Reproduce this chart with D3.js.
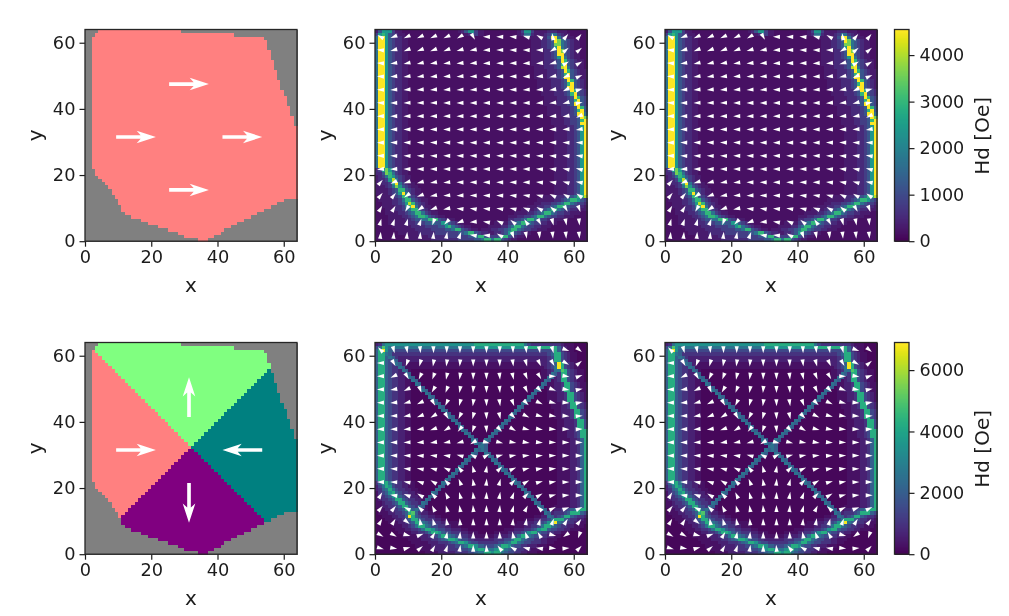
<!DOCTYPE html>
<html>
<head>
<meta charset="utf-8">
<script src="https://cdn.jsdelivr.net/npm/d3@7"></script>
<style>
body { margin: 0; background: #fff; }
svg { display: block; filter: blur(0.45px); }
text { font-family: "DejaVu Sans", sans-serif; fill: #1c1c1c; }
.cell, .step { shape-rendering: crispEdges; }
</style>
</head>
<body>
<script>
var xTicks = [0, 20, 40, 60];
var yTicks = [0, 20, 40, 60];
var topBarTicks = [0, 1000, 2000, 3000, 4000];
var bottomBarTicks = [0, 2000, 4000, 6000];
var topBarMax = 4550;
var bottomBarMax = 6900;

// shape outline, one entry per row y = 0..63
var rowStart = [34,30,28,25,22,19,17,14,12,11,11,10,10,9,8,8,7,6,5,4,3,3,
  2,2,2,2,2,2,2,2,2,2,2,2,2,2,2,2,2,2,2,2,2,2,2,2,2,2,2,2,2,2,2,2,2,2,2,2,2,2,2,2,3,4];
var rowEnd = [37,39,41,42,44,46,48,50,52,54,56,58,60,
  64,64,64,64,64,64,64,64,64,64,64,64,64,64,64,64,64,64,64,64,64,64,
  63,63,63,62,62,62,61,61,61,60,60,59,59,59,58,58,58,57,57,57,56,56,56,55,55,55,54,45,29];

// domain split of the lower maps: y - x and y + x along the two diagonals
var splitDiff = 0.7;
var splitSum = 64.5;
var maskColors = { out: "#808080", left: "#ff8080", top: "#80ff80", right: "#008080", bottom: "#800080" };

// big white arrows on the maps
var bigArrowX = [31.4, 15.4, 47.5, 31.4];
var bigArrowY = [47.5, 31.5, 31.5, 15.5];
var bigAnglesTop = [0, 0, 0, 0];
var bigAnglesBottom = [90, 0, 180, -90];

// Hd per cell, rows y = 63 down to 0, one character per cell, as an index into the levels
var topLevels = [180, 330, 540, 820, 1200, 1700, 2400, 3000, 3600, 4100, 4550];
var bottomLevels = [120, 320, 620, 1000, 1500, 2050, 2600, 3500, 4300, 5000, 6800];

var topHeat = [
"14666311 00000000 00000000 01246631 10000000 00013663 11112221 11000000",
"36764321 10000000 00000000 00012431 10000000 00012552 11123553 21100000",
"5aa64322 11000000 00000000 00000000 00000000 00000111 11124aa5 32110000",
"5aa64322 11000000 00000000 00000000 00000000 00000001 112234a8 54321100",
"5aa64322 11000000 00000000 00000000 00000000 00000001 11223488 54321100",
"5aa64322 11000000 00000000 00000000 00000000 00000001 1122346a 54321100",
"5aa64322 11000000 00000000 00000000 00000000 00000001 1112234a 84321100",
"5aa64322 11000000 00000000 00000000 00000000 00000001 1112234a a4321100",
"5aa64322 11000000 00000000 00000000 00000000 00000001 11122346 a5321100",
"5aa64322 11000000 00000000 00000000 00000000 00000001 11122234 a7432110",
"5aa64322 11000000 00000000 00000000 00000000 00000001 11122234 7a432110",
"5aa64322 11000000 00000000 00000000 00000000 00000000 11122234 9a532110",
"5aa64322 11000000 00000000 00000000 00000000 00000000 11112223 4a743211",
"5aa64322 11000000 00000000 00000000 00000000 00000000 11112223 47a43211",
"5aa64322 11000000 00000000 00000000 00000000 00000000 11112223 4aa43211",
"5aa64322 11000000 00000000 00000000 00000000 00000000 01111222 34a74321",
"5aa64322 11000000 00000000 00000000 00000000 00000000 01111222 347a4321",
"5aa64322 11000000 00000000 00000000 00000000 00000000 01111222 34aa4321",
"5aa64322 11000000 00000000 00000000 00000000 00000000 00111122 234a7432",
"5aa64322 11000000 00000000 00000000 00000000 00000000 00111122 2347a432",
"5aa64322 11000000 00000000 00000000 00000000 00000000 00011112 2234a743",
"5aa64322 11000000 00000000 00000000 00000000 00000000 00011112 22347a43",
"5aa64322 11000000 00000000 00000000 00000000 00000000 00011112 2234aa43",
"5aa64322 11000000 00000000 00000000 00000000 00000000 00001111 22234a74",
"5aa64322 11000000 00000000 00000000 00000000 00000000 00001111 222347a4",
"5aa64322 11000000 00000000 00000000 00000000 00000000 00001111 22234aa5",
"5aa64322 11000000 00000000 00000000 00000000 00000000 00000111 122334a8",
"5aa64322 11000000 00000000 00000000 00000000 00000000 00000111 1223347a",
"5aa64322 11000000 00000000 00000000 00000000 00000000 00000111 122334aa",
"5aa64322 11000000 00000000 00000000 00000000 00000000 00000011 1122346a",
"5aa64322 11000000 00000000 00000000 00000000 00000000 00000011 1122346a",
"5aa64322 11000000 00000000 00000000 00000000 00000000 00000011 1122346a",
"5aa64322 11000000 00000000 00000000 00000000 00000000 00000011 1122346a",
"5aa64322 11000000 00000000 00000000 00000000 00000000 00000011 1122346a",
"5aa64322 11000000 00000000 00000000 00000000 00000000 00000011 1122346a",
"5aa64322 11000000 00000000 00000000 00000000 00000000 00000011 1122346a",
"5aa64322 11000000 00000000 00000000 00000000 00000000 00000011 1122346a",
"5aa64322 11000000 00000000 00000000 00000000 00000000 00000011 1122346a",
"5aa64322 11000000 00000000 00000000 00000000 00000000 00000011 1122346a",
"5aa64322 11000000 00000000 00000000 00000000 00000000 00000011 1122346a",
"5aa64322 11000000 00000000 00000000 00000000 00000000 00000011 1122346a",
"5aa64322 11000000 00000000 00000000 00000000 00000000 00000011 1122346a",
"23686432 11000000 00000000 00000000 00000000 00000000 00000011 1122346a",
"22487532 11000000 00000000 00000000 00000000 00000000 00000011 1122346a",
"12357643 21100000 00000000 00000000 00000000 00000000 00000011 1122346a",
"12236953 21100000 00000000 00000000 00000000 00000000 00000011 1122346a",
"112236a5 32110000 00000000 00000000 00000000 00000000 00000011 1122346a",
"11123586 43211000 00000000 00000000 00000000 00000000 00000011 1122346a",
"11112347 74321100 00000000 00000000 00000000 00000000 00000011 1122346a",
"11112346 a5321100 00000000 00000000 00000000 00000000 00000011 1122346a",
"01111234 77432110 00000000 00000000 00000000 00000000 00111122 23345779",
"01111223 57743211 00000000 00000000 00000000 00000000 01111122 34577643",
"00111223 46974321 00000000 00000000 00000000 00000000 11222334 57754332",
"00111122 357a5321 10000000 00000000 00000000 00000011 12233457 75433221",
"00011122 34577432 11000000 00000000 00000000 00001111 23345775 43322111",
"00011112 23457753 21100000 00000000 00000000 00111122 34577543 32211100",
"00001111 22345776 43211000 00000000 00000000 11122334 57754332 21110000",
"00001111 12234455 77743211 00000000 00000000 22334577 54332211 10000000",
"00001111 11223334 45446643 21100000 00001111 33457754 33221110 00000000",
"00000111 11122223 33344675 43211000 00111122 45775433 22111000 00000000",
"00000011 11112222 23333445 77432110 11122334 57754332 21110000 00000000",
"00000001 11111222 22333333 34457743 22112234 67432110 00000000 00000000",
"00000000 01111111 22222233 33334457 74333477 43211000 00000000 00000000",
"00000000 00111111 12222222 23333344 57757743 21100000 00000000 00000000"
];

var bottomHeat = [
"23677777 77777777 77777777 77777788 88888888 88888643 33333333 21110000",
"46976666 66666666 66666666 66666677 77777777 77777888 88888885 32110000",
"58a75544 44444444 44444444 44444444 44444444 44444444 44444485 32110000",
"58865333 33333333 33333333 33333333 33333333 33333333 33334588 43211000",
"58856532 22222222 22222222 22222222 22222222 22222222 22223488 43211000",
"58854652 22222222 22222222 22222222 22222222 22222222 22223488 43211000",
"58854365 21111111 11111111 11111111 11111111 11111111 1122345a 84321100",
"58854336 51111111 11111111 11111111 11111111 11111111 1112346a 84321100",
"58854332 65100000 00000000 00000000 00000000 00000000 00112366 98432110",
"58854332 26500000 00000000 00000000 00000000 00000000 00112653 88432110",
"58854332 21650000 00000000 00000000 00000000 00000000 00116523 88432110",
"58854332 21165000 00000000 00000000 00000000 00000000 00165123 88432110",
"58854332 21106500 00000000 00000000 00000000 00000000 00651122 38843211",
"58854332 21100650 00000000 00000000 00000000 00000000 06501122 38843211",
"58854332 21100065 00000000 00000000 00000000 00000000 65001122 38843211",
"58854332 21100006 50000000 00000000 00000000 00000006 50001112 23884321",
"58854332 21100000 65000000 00000000 00000000 00000065 00001112 23884321",
"58854332 21100000 06500000 00000000 00000000 00000650 00001112 23884321",
"58854332 21100000 00650000 00000000 00000000 00006500 00000111 22388432",
"58854332 21100000 00065000 00000000 00000000 00065000 00000111 22388432",
"58854332 21100000 00006500 00000000 00000000 00650000 00000011 22238843",
"58854332 21100000 00000650 00000000 00000000 06500000 00000011 22238843",
"58854332 21100000 00000065 00000000 00000000 65000000 00000011 22238843",
"58854332 21100000 00000006 50000000 00000006 50000000 00000001 12223884",
"58854332 21100000 00000000 65000000 00000065 00000000 00000001 12223884",
"58854332 21100000 00000000 06500000 00000650 00000000 00000001 12223884",
"58854332 21100000 00000000 00650000 00006500 00000000 00000001 11223488",
"58854332 21100000 00000000 00065000 00065000 00000000 00000001 11223488",
"58854332 21100000 00000000 00006500 00650000 00000000 00000001 11223488",
"58854332 21100000 00000000 00000650 06500000 00000000 00000001 11122358",
"58854332 21100000 00000000 00000065 65000000 00000000 00000001 11122358",
"58854332 21100000 00000000 00000006 65000000 00000000 00000001 11122358",
"58854332 21100000 00000000 00000065 65000000 00000000 00000001 11122358",
"58854332 21100000 00000000 00000650 06500000 00000000 00000001 11122358",
"58854332 21100000 00000000 00006500 00650000 00000000 00000001 11122358",
"58854332 21100000 00000000 00065000 00065000 00000000 00000001 11122358",
"58854332 21100000 00000000 00650000 00006500 00000000 00000001 11122358",
"58854332 21100000 00000000 06500000 00000650 00000000 00000001 11122358",
"58854332 21100000 00000000 65000000 00000065 00000000 00000001 11122358",
"58854332 21100000 00000006 50000000 00000006 50000000 00000001 11122358",
"58854332 21100000 00000065 00000000 00000000 65000000 00000001 11122358",
"58854332 21100000 00000650 00000000 00000000 06500000 00000001 11122358",
"35786433 22110000 00006500 00000000 00000000 00650000 00000001 11122358",
"24687433 22110000 00065000 00000000 00000000 00065000 00000001 11122358",
"23568643 32211000 00650000 00000000 00000000 00006500 00000001 11122358",
"13457854 33221100 06500000 00000000 00000000 00000650 00000001 11122358",
"12345785 43322110 65000000 00000000 00000000 00000065 00000001 11122358",
"12334588 54332216 50000000 00000000 00000000 00000006 50000001 11122358",
"11233458 85433265 00000000 00000000 00000000 00000000 65000001 11122358",
"11223345 88543651 00000000 00000000 00000000 00000000 06500011 11122358",
"01122334 58856521 00000000 00000000 00000000 00000000 00650022 33456888",
"01112233 45895322 11000000 00000000 00000000 00000000 00165233 34588854",
"00111223 35a85433 22110000 00000000 00000000 00000000 11226534 58854332",
"00011122 34588543 33221100 00000000 00000000 00000111 22334688 85433221",
"00001112 23458865 44332211 10000000 00000000 00011222 334578a6 54332211",
"00000111 22346886 54433221 11000000 00000000 00111223 34688654 33221110",
"00000011 12233468 87544332 22110000 00000001 11222334 57885443 32211100",
"00000001 11122334 68875443 33221110 00001111 22334578 85443322 11100000",
"00000000 11111222 33468865 44332211 11112222 33468865 44332211 00000000",
"00000000 00111122 23345688 75443322 22223334 46886544 33221110 00000000",
"00000000 00011111 22233345 68875443 33333445 68865443 33221100 00000000",
"00000000 00001111 12222333 44568875 54445688 75443322 21110000 00000000",
"00000000 00000111 11222233 33445678 87667886 54433221 11100000 00000000",
"00000000 00000001 11122222 33334456 68878865 44332211 10000000 00000000"
];

// small arrows: tip direction in degrees, rows y = 62 down to 2, columns x = 2..62
var quiverX = [2, 6, 10, 14, 18, 22, 26, 30, 34, 38, 42, 46, 50, 54, 58, 62];
var quiverY = [62, 58, 54, 50, 46, 42, 38, 34, 30, 26, 22, 18, 14, 10, 6, 2];
var topField = [
[150,200,205,205,205,205,210,300,180,178,175,165,150,100,50,50],
[175,195,200,200,200,200,195,190,182,180,178,178,178,210,40,40],
[178,188,192,192,190,188,186,185,183,182,181,183,186,195,30,30],
[178,185,188,188,187,186,185,184,183,182,182,183,186,192,205,25],
[179,183,185,185,184,184,183,183,182,182,182,183,185,190,205,15],
[179,182,183,183,183,182,182,182,181,181,181,182,184,187,195,10],
[180,181,182,182,181,181,181,180,180,180,180,181,182,184,190,205],
[180,180,180,180,180,180,180,180,180,180,180,180,180,181,183,188],
[180,179,179,179,179,179,180,180,180,180,180,180,179,179,178,178],
[180,178,178,178,178,179,179,180,180,180,180,179,178,177,175,172],
[185,182,180,179,179,179,180,180,180,181,180,178,176,174,170,165],
[50,205,197,194,190,185,180,180,180,180,178,178,176,172,165,170],
[50,50,215,200,190,185,182,181,178,178,175,172,165,155,150,145],
[60,60,240,215,200,190,175,170,175,172,168,160,150,140,-60,-70],
[75,70,75,70,250,225,200,185,170,155,140,125,-60,-75,-80,-85],
[85,85,85,85,85,80,70,170,175,150,-70,-80,-85,-85,-85,-85]
];
var bottomField = [
[135,285,280,275,272,270,270,270,270,270,272,275,280,285,340,320],
[180,300,250,255,260,262,265,270,270,273,278,285,295,300,330,40],
[182,205,300,245,250,258,262,268,270,275,282,292,300,0,350,20],
[180,190,205,290,240,250,260,265,270,275,285,295,315,340,350,10],
[180,185,195,205,300,245,255,262,272,278,290,315,335,345,355,10],
[180,183,190,200,210,300,245,255,272,282,315,335,345,350,355,5],
[180,182,185,190,200,210,230,250,275,315,330,345,350,355,358,2],
[180,181,182,185,188,190,195,210,345,345,350,352,355,358,359,0],
[180,179,178,176,174,172,165,150,30,15,10,6,3,2,1,0],
[180,178,175,170,165,155,130,105,80,45,25,15,8,4,2,0],
[180,177,170,162,150,135,112,100,85,75,45,30,15,8,3,0],
[60,170,160,150,135,115,105,97,88,80,70,45,30,15,5,0],
[50,50,155,135,115,105,100,95,90,85,75,65,135,25,20,25],
[60,60,-40,100,105,100,95,92,90,90,85,80,75,70,60,55],
[-30,-30,-15,20,60,80,85,90,90,90,100,110,120,-15,215,250],
[-15,-10,15,40,60,70,80,90,95,130,150,165,170,-5,5,45]
];

var panelLeft = [85, 375, 665];
var panelTop = [29.5, 342.5];
var panelW = 212, panelH = 211.7;
var barLeft = 894.5, barW = 14.5;
var cellIdx = d3.range(64);

var svg = d3.select("body").append("svg")
  .attr("width", 1009)
  .attr("height", 616)
  .attr("viewBox", "0 0 1009 616");

svg.append("rect").attr("width", 1009).attr("height", 616).attr("fill", "#fff");

var x = d3.scaleLinear().domain([0, 64]).range([0, panelW]);
var y = d3.scaleLinear().domain([0, 64]).range([panelH, 0]);

function addPanel(left, top) {
  var g = svg.append("g").attr("transform", "translate(" + left + "," + top + ")");
  return g;
}

function addAxes(g) {
  var xAxis = d3.axisBottom(x).tickValues(xTicks).tickFormat(d3.format("d")).tickSize(5.5).tickSizeOuter(0).tickPadding(4);
  var yAxis = d3.axisLeft(y).tickValues(yTicks).tickFormat(d3.format("d")).tickSize(5.5).tickSizeOuter(0).tickPadding(4);

  var gx = g.append("g").attr("transform", "translate(0," + panelH + ")").call(xAxis);
  var gy = g.append("g").call(yAxis);
  [gx, gy].forEach(function (a) {
    a.selectAll("text").style("font-size", "17.8px").attr("fill", "#1c1c1c");
    a.selectAll("line").attr("stroke", "#1c1c1c").attr("stroke-width", 1.2);
    a.select(".domain").remove();
  });

  g.append("rect")
    .attr("width", panelW).attr("height", panelH)
    .attr("fill", "none").attr("stroke", "#262626").attr("stroke-width", 1.3);

  g.append("text").attr("x", panelW / 2).attr("y", panelH + 51)
    .attr("text-anchor", "middle").style("font-size", "20px").text("x");
  g.append("text").attr("transform", "translate(-43," + panelH / 2 + ") rotate(-90)")
    .attr("text-anchor", "middle").style("font-size", "20px").text("y");
}

function maskName(i, j, split) {
  if (i < rowStart[j] || i >= rowEnd[j]) return "out";
  if (!split) return "left";
  var a = j - i - splitDiff;
  var b = i + j + 1 - splitSum;
  if (a > 0) return b > 0 ? "top" : "left";
  return b > 0 ? "right" : "bottom";
}

function drawMask(left, top, split, angles) {
  var g = addPanel(left, top);
  var cells = [];
  cellIdx.forEach(function (j) {
    cellIdx.forEach(function (i) {
      cells.push({ i: i, j: j, kind: maskName(i, j, split) });
    });
  });

  g.selectAll("rect.cell")
    .data(cells)
    .enter().append("rect")
    .attr("class", "cell")
    .attr("x", function (d) { return x(d.i); })
    .attr("y", function (d) { return y(d.j + 1); })
    .attr("width", x(1) - x(0) + 0.5)
    .attr("height", y(0) - y(1) + 0.5)
    .attr("fill", function (d) { return maskColors[d.kind]; });

  // length 12 cells, drawn tail to tip around the centre
  var arrowShape = "M" + x(6) + ",0 L" + x(0.2) + "," + (-(x(1.9))) + " L" + x(1.4) + "," + (-(x(0.55)))
    + " L" + (-x(6)) + "," + (-(x(0.55))) + " L" + (-x(6)) + "," + x(0.55)
    + " L" + x(1.4) + "," + x(0.55) + " L" + x(0.2) + "," + x(1.9) + "Z";

  g.selectAll("path.big")
    .data(angles)
    .enter().append("path")
    .attr("class", "big")
    .attr("d", arrowShape)
    .attr("fill", "#fff")
    .attr("transform", function (d, k) {
      return "translate(" + x(bigArrowX[k]) + "," + y(bigArrowY[k]) + ") rotate(" + (-d) + ")";
    });

  addAxes(g);
}

function drawField(left, top, heat, levels, field, maxValue) {
  var g = addPanel(left, top);
  var color = d3.scaleSequential(d3.interpolateViridis).domain([0, maxValue]);
  var cells = [];
  heat.forEach(function (row, r) {
    var chars = row.replace(/ /g, "");
    cellIdx.forEach(function (i) {
      cells.push({ i: i, j: 63 - r, v: levels[parseInt(chars[i], 16)] });
    });
  });

  g.selectAll("rect.cell")
    .data(cells)
    .enter().append("rect")
    .attr("class", "cell")
    .attr("x", function (d) { return x(d.i); })
    .attr("y", function (d) { return y(d.j + 1); })
    .attr("width", x(1) - x(0) + 0.5)
    .attr("height", y(0) - y(1) + 0.5)
    .attr("fill", function (d) { return color(d.v); });

  var wedges = [];
  field.forEach(function (row, r) {
    row.forEach(function (angle, c) {
      wedges.push({ px: quiverX[c], py: quiverY[r], angle: angle });
    });
  });

  g.selectAll("path.wedge")
    .data(wedges)
    .enter().append("path")
    .attr("class", "wedge")
    .attr("d", "M3.5,0 L-3.5,-2.1 L-3.5,2.1Z")
    .attr("fill", "#fff")
    .attr("transform", function (d) {
      return "translate(" + x(d.px - 0.35) + "," + y(d.py - 0.2) + ") rotate(" + (-d.angle) + ")";
    });

  addAxes(g);
}

function drawBar(top, maxValue, ticks) {
  var g = addPanel(barLeft, top);
  var scale = d3.scaleLinear().domain([0, maxValue]).range([panelH, 0]);
  var color = d3.scaleSequential(d3.interpolateViridis).domain([0, maxValue]);

  g.selectAll("rect.step")
    .data(d3.range(0, maxValue, maxValue / 256))
    .enter().append("rect")
    .attr("class", "step")
    .attr("x", 0)
    .attr("y", function (d) { return scale(d + maxValue / 256); })
    .attr("width", barW)
    .attr("height", panelH / 256 + 0.6)
    .attr("fill", function (d) { return color(d); });

  var axis = d3.axisRight(scale).tickValues(ticks).tickFormat(d3.format("d")).tickSize(5.5).tickSizeOuter(0).tickPadding(5);
  var ga = g.append("g").attr("transform", "translate(" + barW + ",0)").call(axis);
  ga.selectAll("text").style("font-size", "17.6px").attr("fill", "#1c1c1c");
  ga.selectAll("line").attr("stroke", "#1c1c1c").attr("stroke-width", 1.2);
  ga.select(".domain").remove();

  g.append("rect").attr("width", barW).attr("height", panelH)
    .attr("fill", "none").attr("stroke", "#262626").attr("stroke-width", 1.3);

  g.append("text").attr("transform", "translate(94," + (panelH / 2 + 0.5) + ") rotate(-90)")
    .attr("text-anchor", "middle").style("font-size", "20px").text("Hd [Oe]");
}

drawMask(panelLeft[0], panelTop[0], false, bigAnglesTop);
drawField(panelLeft[1], panelTop[0], topHeat, topLevels, topField, topBarMax);
drawField(panelLeft[2], panelTop[0], topHeat, topLevels, topField, topBarMax);
drawBar(panelTop[0], topBarMax, topBarTicks);

drawMask(panelLeft[0], panelTop[1], true, bigAnglesBottom);
drawField(panelLeft[1], panelTop[1], bottomHeat, bottomLevels, bottomField, bottomBarMax);
drawField(panelLeft[2], panelTop[1], bottomHeat, bottomLevels, bottomField, bottomBarMax);
drawBar(panelTop[1], bottomBarMax, bottomBarTicks);
</script>
</body>
</html>
